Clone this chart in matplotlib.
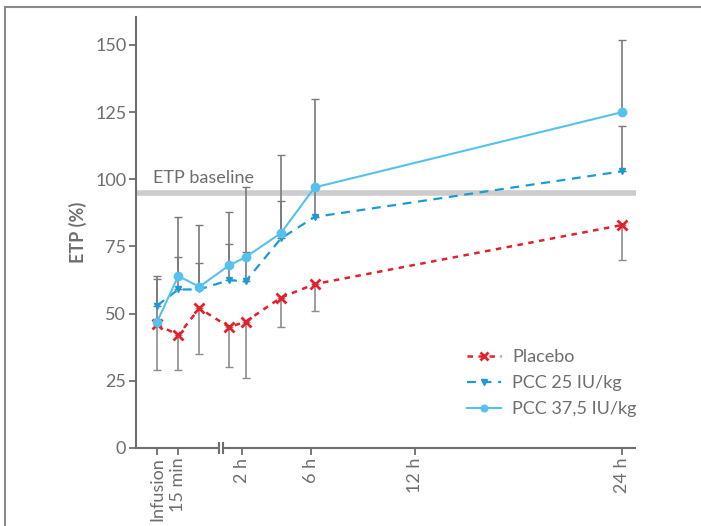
import numpy as np
import matplotlib
matplotlib.use("Agg")
import matplotlib.pyplot as plt
from matplotlib.lines import Line2D

plt.rcParams['font.family'] = ['Lato', 'DejaVu Sans']

# hours after infusion
times = [0, 0.25, 0.5, 1.25, 2.2, 4.25, 6.2, 24]
placebo = [46, 42, 52, 45, 47, 56, 61, 83]
placebo_lo = [29, 29, 35, 30, 26, 45, 51, 70]
pcc25 = [53, 59, 59, 62.5, 62, 78, 86, 103]
pcc25_hi = [63, 71, 69, 76, 73, 92, 97, 120]
pcc37 = [47, 64, 60, 68, 71, 80, 97, 125]
pcc37_hi = [64, 86, 83, 88, 97, 109, 130, 152]
baseline = 95

tick_times = [0, 0.25, 2, 6, 12, 24]
tick_labels = ["Infusion", "15 min", "2 h", "6 h", "12 h", "24 h"]
yticks = [0, 25, 50, 75, 100, 125, 150]

GREY = '#6e6e6e'
RED = '#e3202b'
BLUE = '#1a9bd7'
LBLUE = '#55c1ec'

# broken time axis: stretched first 45 min, then linear hours
K, T0, X0, P = 84.5, 0.75, 63.4, 17.28


def fwd(t):
    t = np.asarray(t, dtype=float)
    return np.where(t <= T0, t * K, X0 + (t - T0) * P)


def inv(x):
    x = np.asarray(x, dtype=float)
    return np.where(x <= X0, x / K, T0 + (x - X0) / P)


fig = plt.figure(figsize=(7.01, 5.26), dpi=100)
ax = fig.add_axes([136 / 701, 1 - 448 / 526, 500 / 701, (448 - 17.3) / 526])
ax.set_xscale('function', functions=(fwd, inv))
ax.set_xlim(-0.25, 24.8)
ax.set_ylim(0, 160.3)

# baseline
ax.axhline(baseline, color='#cccccc', lw=4, zorder=1, xmax=0.995)
ax.text(-0.05, baseline + 2.5, "ETP baseline", color=GREY, fontsize=13,
        ha='left', va='bottom')

# one-sided error bars
t = np.array(times)
ax.errorbar(t, pcc37, yerr=[np.zeros(len(t)), np.array(pcc37_hi) - pcc37],
            fmt='none', ecolor='#7a7a7a', elinewidth=1.2, capsize=3, zorder=2)
ax.errorbar(t, pcc25, yerr=[np.zeros(len(t)), np.array(pcc25_hi) - pcc25],
            fmt='none', ecolor='#7a7a7a', elinewidth=1.2, capsize=3, zorder=2)
ax.errorbar(t, placebo, yerr=[np.array(placebo) - placebo_lo, np.zeros(len(t))],
            fmt='none', ecolor='#8c8c8c', elinewidth=1.2, capsize=3, zorder=2)

ax.plot(t, placebo, color=RED, ls=(0, (2.2, 2.2)), lw=1.8, marker='x',
        ms=7, mew=2, label='Placebo', zorder=4)
ax.plot(t, pcc25, color=BLUE, ls=(0, (4, 3)), lw=1.6, marker='v',
        ms=5, label='PCC 25 IU/kg', zorder=4)
ax.plot(t, pcc37, color=LBLUE, ls='-', lw=1.5, marker='o',
        ms=6, label='PCC 37,5 IU/kg', zorder=5)

# axes styling
for s in ['top', 'right', 'bottom']:
    ax.spines[s].set_visible(False)
ax.spines['left'].set_color(GREY)
ax.spines['left'].set_linewidth(1.5)

xt = ax.get_xaxis_transform()
b1, b2 = 0.734, 0.90
ax.plot([-0.25, b1], [0, 0], color=GREY, lw=1.5, transform=xt, clip_on=False,
        solid_capstyle='butt')
ax.plot([b2, 24.8], [0, 0], color=GREY, lw=1.5, transform=xt, clip_on=False,
        solid_capstyle='butt')
for b in (b1, b2):
    ax.plot([b, b], [-0.012, 0.012], color=GREY, lw=1.5, transform=xt,
            clip_on=False)

ax.set_xticks(tick_times)
ax.set_xticklabels(tick_labels, rotation=90)
ax.minorticks_off()
ax.set_yticks(yticks)
ax.tick_params(colors=GREY, labelsize=13, length=5, width=1.3, pad=2)
ax.set_ylabel("ETP (%)", color=GREY, fontsize=13, fontweight='bold', labelpad=6)

leg = ax.legend(loc='upper left', bbox_to_anchor=(451 / 701, 1 - 333 / 526),
                bbox_transform=fig.transFigure, frameon=False, fontsize=13,
                labelcolor=GREY, handlelength=1.85, handletextpad=0.65,
                labelspacing=0.55, markerscale=0.8)

# figure frame (left and top edges)
fig.add_artist(Line2D([5 / 701, 5 / 701], [0, 1 - 6.5 / 526], color='#8a8a8a',
                      lw=1.5, transform=fig.transFigure))
fig.add_artist(Line2D([5 / 701, 1], [1 - 6.5 / 526, 1 - 6.5 / 526],
                      color='#8a8a8a', lw=1.5, transform=fig.transFigure))

fig.savefig("out.png", dpi=100)
